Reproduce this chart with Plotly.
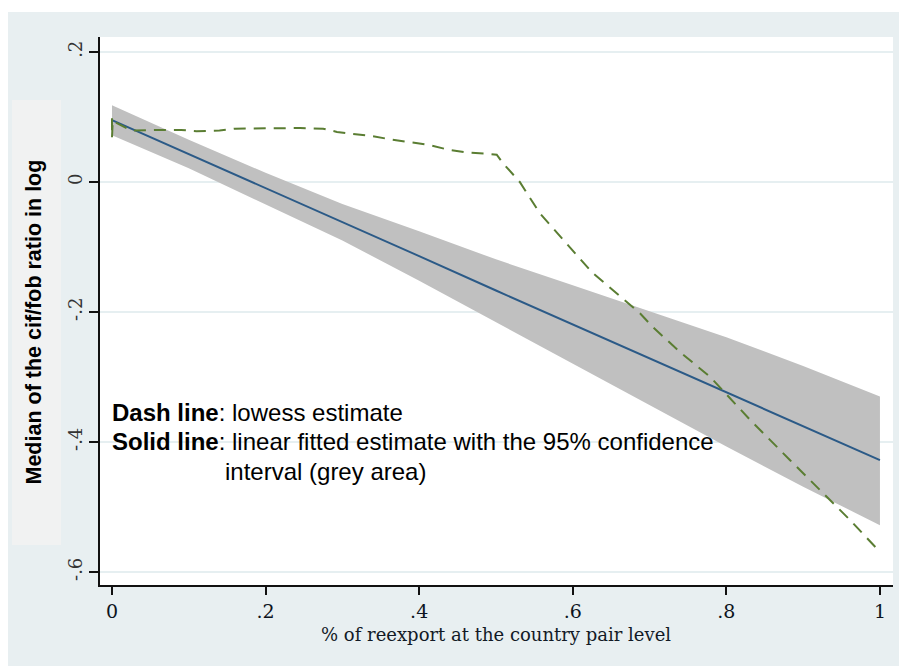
import plotly.graph_objects as go

# ---- data ----
fit_x = [0.0, 0.1, 0.2, 0.3, 0.4, 0.5, 0.6, 0.7, 0.8, 0.9, 1.0]
fit_y = [0.095, 0.043, -0.010, -0.062, -0.114, -0.167, -0.219, -0.271, -0.323, -0.376, -0.428]
ci_upper = [0.118, 0.065, 0.014, -0.034, -0.076, -0.119, -0.159, -0.199, -0.239, -0.283, -0.330]
ci_lower = [0.072, 0.021, -0.034, -0.090, -0.152, -0.215, -0.279, -0.343, -0.407, -0.469, -0.528]

lowess_x = [0.0, 0.0, 0.001, 0.025, 0.06, 0.09, 0.11, 0.14, 0.16, 0.2, 0.245, 0.275,
            0.293, 0.3125, 0.337, 0.365, 0.387, 0.413, 0.44, 0.465, 0.492, 0.501,
            0.509, 0.531, 0.557, 0.587, 0.607, 0.626, 0.648, 0.6875, 0.704, 0.74,
            0.779, 0.831, 0.883, 0.926, 0.961, 1.0]
lowess_y = [0.098, 0.068, 0.094, 0.079, 0.080, 0.080, 0.078, 0.079, 0.082, 0.083, 0.083, 0.082,
            0.077, 0.074, 0.071, 0.065, 0.061, 0.057, 0.049, 0.045, 0.043, 0.042,
            0.029, 0.000, -0.048, -0.089, -0.115, -0.140, -0.162, -0.202, -0.223, -0.262,
            -0.300, -0.366, -0.428, -0.478, -0.520, -0.569]

x_tickvals = [0, 0.2, 0.4, 0.6, 0.8, 1]
x_ticktext = ["0", ".2", ".4", ".6", ".8", "1"]
y_tickvals = [-0.6, -0.4, -0.2, 0, 0.2]
y_ticktext = ["-.6", "-.4", "-.2", "0", ".2"]

x_title = "% of reexport at the country pair level"
y_title = "<b>Median of the cif/fob ratio in log</b>"
note1 = "<b>Dash line</b>: lowess estimate"
note2 = "<b>Solid line</b>: linear fitted estimate with the 95% confidence"
note3 = "interval (grey area)"

# ---- figure ----
fig = go.Figure()

fig.add_trace(go.Scatter(
    x=fit_x + fit_x[::-1], y=ci_upper + ci_lower[::-1],
    fill="toself", fillcolor="#c0c0c0", line=dict(width=0),
    mode="lines", hoverinfo="skip", showlegend=False))

fig.add_trace(go.Scatter(
    x=fit_x, y=fit_y, mode="lines",
    line=dict(color="#2b5a87", width=2), showlegend=False))

fig.add_trace(go.Scatter(
    x=lowess_x, y=lowess_y, mode="lines",
    line=dict(color="#5a7d32", width=2, dash="12px,8px"), showlegend=False))

# the page puts the figure at an (8, 8) offset
OX, OY = 8, 8
W, H = 899, 658
L, R, T, B = 92, 14, 29, 81
pw, ph = W - L - R, H - T - B


def px(xp):  # page x pixel -> paper fraction
    return (xp - OX - L) / pw


def py(yp):  # page y pixel -> paper fraction
    return (H - B - (yp - OY)) / ph


panel = "#e8eff1"

shapes = [
    dict(type="rect", xref="paper", yref="paper", x0=px(8), x1=px(907), y0=py(12), y1=py(8),
         fillcolor="white", line=dict(width=0), layer="below"),
    dict(type="rect", xref="paper", yref="paper", x0=px(12), x1=px(61), y0=py(545), y1=py(100),
         fillcolor="#f1f2f2", line=dict(width=0), layer="below"),
]

annotations = [
    dict(text=y_title, xref="paper", yref="paper", x=px(33.5), y=py(322), textangle=-90,
         showarrow=False, font=dict(family="Liberation Sans, Arial", size=21.5, color="black"),
         xanchor="center", yanchor="middle"),
    dict(text=x_title, xref="paper", yref="paper", x=px(496), y=py(634),
         showarrow=False, font=dict(family="DejaVu Serif", size=18, color="#121a26"),
         xanchor="center", yanchor="middle"),
    dict(text=note1, xref="x", yref="y", x=0, y=-0.3554, xanchor="left", yanchor="middle",
         xshift=-2, showarrow=False,
         font=dict(family="Liberation Sans, Arial", size=24, color="black")),
    dict(text=note2, xref="x", yref="y", x=0, y=-0.40, xanchor="left", yanchor="middle",
         xshift=-2, showarrow=False,
         font=dict(family="Liberation Sans, Arial", size=24, color="black")),
    dict(text=note3, xref="x", yref="y", x=0.147, y=-0.446, xanchor="left", yanchor="middle",
         xshift=-2, showarrow=False,
         font=dict(family="Liberation Sans, Arial", size=24, color="black")),
]

fig.update_layout(
    width=W, height=H,
    margin=dict(l=L, r=R, t=T, b=B, pad=0),
    paper_bgcolor=panel, plot_bgcolor="white",
    shapes=shapes, annotations=annotations,
    showlegend=False,
    xaxis=dict(range=[-0.0156, 1.017], tickvals=x_tickvals, ticktext=x_ticktext,
               showgrid=False, zeroline=False, showline=True, linecolor="#111", linewidth=1.5,
               ticks="outside", ticklen=8, tickwidth=1.5, tickcolor="#111",
               tickfont=dict(family="DejaVu Serif", size=19, color="#0d1420")),
    yaxis=dict(range=[-0.62, 0.223], tickvals=y_tickvals, ticktext=y_ticktext,
               tickangle=-90, showgrid=True, gridcolor="#e6eff1", gridwidth=1.5,
               zeroline=False, showline=True, linecolor="#111", linewidth=1.5,
               ticks="outside", ticklen=9, tickwidth=1.5, tickcolor="#111",
               tickfont=dict(family="DejaVu Serif", size=18, color="#333")),
)

fig.write_html("out.html")
